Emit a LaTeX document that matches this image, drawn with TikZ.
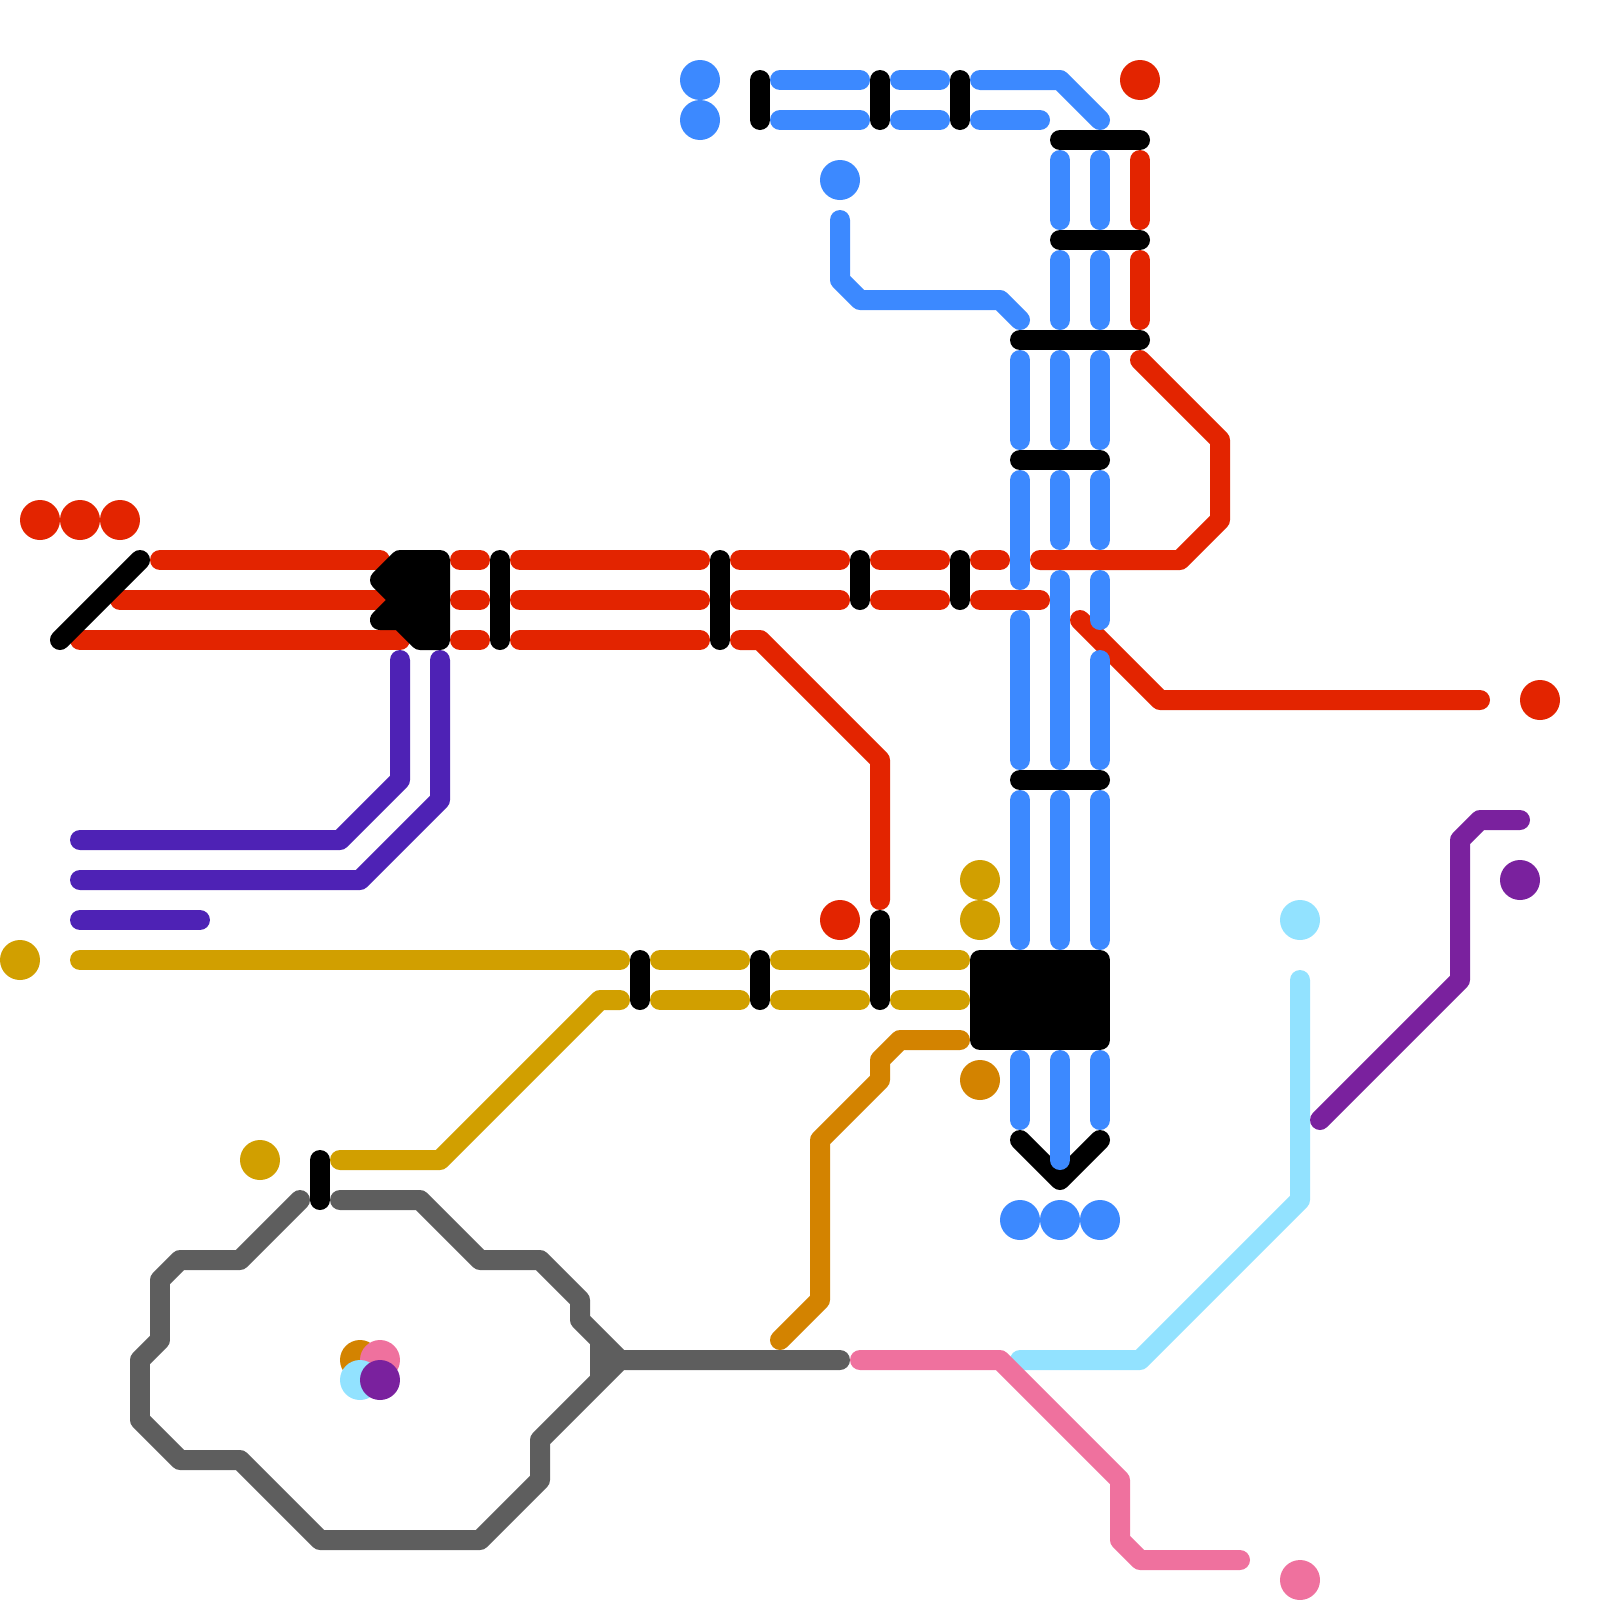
\documentclass[tikz,border=0pt]{standalone}
\definecolor{cblue}{HTML}{3C89FF}
\definecolor{cred}{HTML}{E32400}
\definecolor{cgold}{HTML}{D19F00}
\definecolor{corange}{HTML}{D38300}
\definecolor{cindigo}{HTML}{4E22B5}
\definecolor{cgrey}{HTML}{5E5E5E}
\definecolor{ccyan}{HTML}{92E2FF}
\definecolor{cpink}{HTML}{EF719E}
\definecolor{cviolet}{HTML}{7A219E}
\tikzset{
  trk/.style={line width=0.4cm,line cap=round,line join=round},
  stn/.style={circle,fill=#1,draw=none,minimum size=0.8cm,inner sep=0pt,outer sep=0pt},
}
\begin{document}
\begin{tikzpicture}[x=0.02cm,y=-0.02cm]
\useasboundingbox (0,0) rectangle (1600,1600);
% grey
\begin{scope}[trk,cgrey]
\draw (300,1200)--(240,1260)--(180,1260)--(160,1280)--(160,1340)--(140,1360)--(140,1420)--(180,1460)--(240,1460)--(320,1540)--(480,1540)--(540,1480)--(540,1440)--(620,1360)--(840,1360);
\draw (340,1200)--(420,1200)--(480,1260)--(540,1260)--(580,1300)--(580,1320)--(620,1360);
\draw[line cap=butt] (600,1340)--(600,1380);
\end{scope}
% pink, cyan
\draw[trk,ccyan] (1020,1360)--(1140,1360)--(1300,1200)--(1300,980);
\draw[trk,cpink] (860,1360)--(1000,1360)--(1120,1480)--(1120,1540)--(1140,1560)--(1240,1560);
% violet
\draw[trk,cviolet] (1320,1120)--(1460,980)--(1460,840)--(1480,820)--(1520,820);
% orange
\draw[trk,corange] (780,1340)--(820,1300)--(820,1140)--(880,1080)--(880,1060)--(900,1040)--(960,1040);
% gold
\begin{scope}[trk,cgold]
\draw (80,960)--(620,960);
\draw (660,960)--(740,960);
\draw (780,960)--(860,960);
\draw (900,960)--(960,960);
\draw (340,1160)--(440,1160)--(600,1000)--(620,1000);
\draw (660,1000)--(740,1000);
\draw (780,1000)--(860,1000);
\draw (900,1000)--(960,1000);
\end{scope}
% indigo
\begin{scope}[trk,cindigo]
\draw (400,660)--(400,780)--(340,840)--(80,840);
\draw (440,660)--(440,800)--(360,880)--(80,880);
\draw (80,920)--(200,920);
\end{scope}
% red
\begin{scope}[trk,cred]
\draw (160,560)--(380,560);
\draw (460,560)--(480,560);
\draw (520,560)--(700,560);
\draw (740,560)--(840,560);
\draw (880,560)--(940,560);
\draw (980,560)--(1000,560);
\draw (1040,560)--(1180,560)--(1220,520)--(1220,440)--(1140,360);
\draw (120,600)--(380,600);
\draw (460,600)--(480,600);
\draw (520,600)--(700,600);
\draw (740,600)--(840,600);
\draw (880,600)--(940,600);
\draw (980,600)--(1040,600);
\draw (80,640)--(400,640);
\draw (460,640)--(480,640);
\draw (520,640)--(700,640);
\draw (740,640)--(760,640)--(880,760)--(880,900);
\draw (1080,620)--(1160,700)--(1480,700);
\draw (1140,160)--(1140,220);
\draw (1140,260)--(1140,320);
\end{scope}
% black
\begin{scope}[trk,black]
\draw (140,560)--(60,640);
\draw[fill=black] (380,580)--(400,560)--(440,560)--(440,640)--(420,640)--(400,620)--(380,620)--(400,600)--cycle;
\draw (500,560)--(500,640);
\draw (720,560)--(720,640);
\draw (860,560)--(860,600);
\draw (960,560)--(960,600);
\draw (760,80)--(760,120);
\draw (880,80)--(880,120);
\draw (960,80)--(960,120);
\draw (1060,140)--(1140,140);
\draw (1060,240)--(1140,240);
\draw (1020,340)--(1140,340);
\draw (1020,460)--(1100,460);
\draw (1020,780)--(1100,780);
\draw[fill=black] (980,960) rectangle (1100,1040);
\draw (1020,1140)--(1060,1180)--(1100,1140);
\draw (640,960)--(640,1000);
\draw (760,960)--(760,1000);
\draw (880,920)--(880,1000);
\draw (320,1160)--(320,1200);
\end{scope}
% blue
\begin{scope}[trk,cblue]
\draw (780,80)--(860,80);
\draw (900,80)--(940,80);
\draw (980,80)--(1060,80)--(1100,120);
\draw (780,120)--(860,120);
\draw (900,120)--(940,120);
\draw (980,120)--(1040,120);
\draw (840,220)--(840,280)--(860,300)--(1000,300)--(1020,320);
\draw (1020,360)--(1020,440);
\draw (1020,480)--(1020,580);
\draw (1020,620)--(1020,760);
\draw (1020,800)--(1020,940);
\draw (1020,1060)--(1020,1120);
\draw (1060,160)--(1060,220);
\draw (1060,260)--(1060,320);
\draw (1060,360)--(1060,440);
\draw (1060,480)--(1060,540);
\draw (1060,580)--(1060,760);
\draw (1060,800)--(1060,940);
\draw (1060,1060)--(1060,1160);
\draw (1100,160)--(1100,220);
\draw (1100,260)--(1100,320);
\draw (1100,360)--(1100,440);
\draw (1100,480)--(1100,540);
\draw (1100,580)--(1100,620);
\draw (1100,660)--(1100,760);
\draw (1100,800)--(1100,940);
\draw (1100,1060)--(1100,1120);
\end{scope}
% stations
\node[stn=cred] (r1) at (40,520) {};
\node[stn=cred] (r2) at (80,520) {};
\node[stn=cred] (r3) at (120,520) {};
\node[stn=cred] (r4) at (1140,80) {};
\node[stn=cred] (r5) at (1540,700) {};
\node[stn=cred] (r6) at (840,920) {};
\node[stn=cblue] (b1) at (700,80) {};
\node[stn=cblue] (b2) at (700,120) {};
\node[stn=cblue] (b3) at (840,180) {};
\node[stn=cblue] (b4) at (1020,1220) {};
\node[stn=cblue] (b5) at (1060,1220) {};
\node[stn=cblue] (b6) at (1100,1220) {};
\node[stn=cgold] (g1) at (20,960) {};
\node[stn=cgold] (g2) at (980,880) {};
\node[stn=cgold] (g3) at (980,920) {};
\node[stn=cgold] (g4) at (260,1160) {};
\node[stn=corange] (o1) at (980,1080) {};
\node[stn=ccyan] (c1) at (1300,920) {};
\node[stn=cviolet] (v1) at (1520,880) {};
\node[stn=cpink] (p1) at (1300,1580) {};
\node[stn=corange] (o2) at (360,1360) {};
\node[stn=cpink] (p2) at (380,1360) {};
\node[stn=ccyan] (c2) at (360,1380) {};
\node[stn=cviolet] (v2) at (380,1380) {};
\end{tikzpicture}
\end{document}
